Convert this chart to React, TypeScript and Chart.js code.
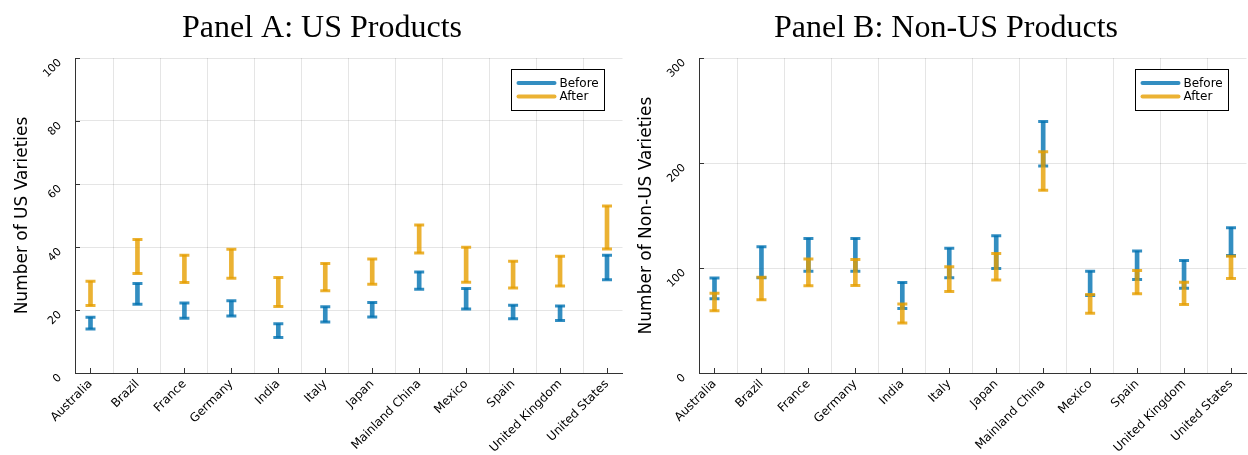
import React, { useEffect, useRef } from 'react';
import { Chart, registerables } from 'chart.js';

Chart.register(...registerables);

const categories = [
  'Australia', 'Brazil', 'France', 'Germany', 'India', 'Italy', 'Japan',
  'Mainland China', 'Mexico', 'Spain', 'United Kingdom', 'United States',
];

const seriesNames = ['Before', 'After'];

// Panel A: US varieties (low / high of each interval)
const usBeforeLow = [14.0, 21.8, 17.4, 18.1, 11.3, 16.2, 17.8, 26.6, 20.3, 17.2, 16.7, 29.6];
const usBeforeHigh = [17.7, 28.4, 22.2, 22.9, 15.6, 21.0, 22.4, 32.1, 26.8, 21.5, 21.3, 37.4];
const usAfterLow = [21.4, 31.6, 28.7, 30.1, 21.1, 26.1, 28.2, 38.1, 28.8, 27.0, 27.6, 39.4];
const usAfterHigh = [29.1, 42.4, 37.4, 39.3, 30.3, 34.8, 36.2, 47.0, 39.9, 35.5, 37.1, 53.0];

// Panel B: Non-US varieties
const nonUsBeforeLow = [70.6, 90.7, 97.0, 97.0, 61.4, 90.7, 99.6, 197.2, 73.8, 89.1, 80.8, 112.0];
const nonUsBeforeHigh = [90.4, 120.3, 128.2, 128.2, 86.3, 118.7, 130.7, 239.5, 97.0, 116.1, 107.2, 138.4];
const nonUsAfterLow = [59.2, 69.7, 83.0, 83.4, 47.7, 77.7, 88.5, 174.0, 57.0, 75.4, 65.3, 90.1];
const nonUsAfterHigh = [76.0, 91.3, 108.5, 108.2, 65.8, 101.2, 113.9, 210.6, 74.8, 97.7, 86.5, 111.3];

const panelTitles = ['Panel A: US Products', 'Panel B: Non-US Products'];
const yTitles = ['Number of US Varieties', 'Number of Non-US Varieties'];
const yMax = [100, 300];
const yStep = [20, 100];

const BLUE = 'rgba(0,114,178,0.8)';
const ORANGE = 'rgba(230,159,0,0.8)';
const GRID = 'rgba(0,0,0,0.1)';
const AXIS = '#333333';
const SANS = 'DejaVu Sans';

const W = 624;
const H = 455;

function buildDatasets(bLow: number[], bHigh: number[], aLow: number[], aHigh: number[]) {
  const bars = (lo: number[], hi: number[]) => lo.map((v, i) => ({ x: i, y: [v, hi[i]] }));
  const caps = (lo: number[], hi: number[]) => {
    const pts: { x: number; y: number }[] = [];
    lo.forEach((v, i) => {
      pts.push({ x: i, y: v });
      pts.push({ x: i, y: hi[i] });
    });
    return pts;
  };
  const capStyle = (color: string) => ({
    type: 'line' as const,
    showLine: false,
    pointStyle: 'line',
    pointRadius: 5,
    pointHoverRadius: 5,
    pointBorderWidth: 3,
    borderColor: color,
    backgroundColor: color,
    pointBorderColor: color,
  });
  return [
    { type: 'bar' as const, label: seriesNames[0], data: bars(bLow, bHigh), backgroundColor: BLUE, barThickness: 4, grouped: false, order: 3 },
    { ...capStyle(BLUE), label: seriesNames[0] + ' caps', data: caps(bLow, bHigh), order: 2 },
    { type: 'bar' as const, label: seriesNames[1], data: bars(aLow, aHigh), backgroundColor: ORANGE, barThickness: 4, grouped: false, order: 1 },
    { ...capStyle(ORANGE), label: seriesNames[1] + ' caps', data: caps(aLow, aHigh), order: 0 },
  ];
}

const decorPlugin = (title: string) => ({
  id: 'decor',
  afterDraw(chart: any) {
    const { ctx, chartArea } = chart;
    const { left, right, top, bottom } = chartArea;
    ctx.save();
    // inner tick marks
    ctx.strokeStyle = AXIS;
    ctx.lineWidth = 1;
    const xs = chart.scales.x;
    const ys = chart.scales.y;
    xs.ticks.forEach((t: any) => {
      const px = Math.round(xs.getPixelForValue(t.value)) + 0.5;
      ctx.beginPath();
      ctx.moveTo(px, bottom);
      ctx.lineTo(px, bottom - 5);
      ctx.stroke();
    });
    ys.ticks.forEach((t: any) => {
      const py = Math.round(ys.getPixelForValue(t.value)) + 0.5;
      ctx.beginPath();
      ctx.moveTo(left, py);
      ctx.lineTo(left + 5, py);
      ctx.stroke();
    });
    // legend box
    const bw = 93;
    const bh = 41;
    const bx = Math.round(right - 18.5 - bw) + 0.5;
    const by = Math.round(top + 10.5) + 0.5;
    ctx.fillStyle = '#ffffff';
    ctx.fillRect(bx, by, bw, bh);
    ctx.strokeStyle = '#000000';
    ctx.lineWidth = 1;
    ctx.strokeRect(bx, by, bw, bh);
    const colors = [BLUE, ORANGE];
    seriesNames.forEach((name, i) => {
      const ry = by + 13.5 + i * 13.5;
      ctx.strokeStyle = colors[i];
      ctx.lineWidth = 4;
      ctx.lineCap = 'round';
      ctx.beginPath();
      ctx.moveTo(bx + 7, ry);
      ctx.lineTo(bx + 43, ry);
      ctx.stroke();
      ctx.fillStyle = '#000000';
      ctx.font = `12px "${SANS}"`;
      ctx.textAlign = 'left';
      ctx.textBaseline = 'middle';
      ctx.fillText(name, bx + 48, ry + 0.5);
    });
    // panel title
    ctx.fillStyle = '#000000';
    ctx.font = '32px "Liberation Serif"';
    ctx.textAlign = 'center';
    ctx.textBaseline = 'alphabetic';
    ctx.fillText(title, 322, 37);
    ctx.restore();
  },
});

function Panel({ idx }: { idx: number }) {
  const ref = useRef<HTMLCanvasElement | null>(null);
  useEffect(() => {
    if (!ref.current) return;
    const datasets = idx === 0
      ? buildDatasets(usBeforeLow, usBeforeHigh, usAfterLow, usAfterHigh)
      : buildDatasets(nonUsBeforeLow, nonUsBeforeHigh, nonUsAfterLow, nonUsAfterHigh);
    const chart = new Chart(ref.current, {
      type: 'bar',
      data: { datasets: datasets as any },
      options: {
        animation: false,
        responsive: false,
        devicePixelRatio: 1,
        layout: { autoPadding: false, padding: { top: 58, right: 1.5, left: 0, bottom: 0 } },
        plugins: {
          legend: { display: false },
          tooltip: { enabled: false },
          title: { display: false },
        },
        scales: {
          x: {
            type: 'linear',
            min: -0.33,
            max: 11.33,
            offset: false,
            afterBuildTicks: (axis: any) => {
              axis.ticks = categories.map((_, i) => ({ value: i }));
            },
            ticks: {
              autoSkip: false,
              minRotation: 45,
              maxRotation: 45,
              padding: 4,
              color: '#000000',
              font: { family: SANS, size: 12 },
              callback: (v: any) => categories[Math.round(Number(v))],
            },
            grid: { color: GRID, drawTicks: false },
            border: { color: AXIS, width: 1 },
            afterFit: (s: any) => {
              s.height = 82;
              s.paddingLeft = 0;
              s.paddingRight = 0;
            },
          } as any,
          y: {
            type: 'linear',
            min: 0,
            max: yMax[idx],
            ticks: {
              stepSize: yStep[idx],
              minRotation: 45,
              maxRotation: 45,
              padding: 15,
              labelOffset: 3,
              color: '#000000',
              font: { family: SANS, size: 11 },
            },
            grid: { color: GRID, drawTicks: false },
            border: { color: AXIS, width: 1 },
            title: {
              display: true,
              text: yTitles[idx],
              color: '#000000',
              font: { family: SANS, size: 17 },
              padding: { top: 12, bottom: 0 },
            },
            afterFit: (s: any) => {
              s.width = 75;
              s.paddingTop = 0;
              s.paddingBottom = 0;
            },
          } as any,
        },
      },
      plugins: [decorPlugin(panelTitles[idx])],
    });
    return () => chart.destroy();
  }, [idx]);
  return (
    <canvas
      ref={ref}
      width={W}
      height={H}
      style={{ position: 'absolute', left: idx * W, top: 0, width: W, height: H }}
    />
  );
}

export default function App() {
  return (
    <div style={{ position: 'absolute', left: 0, top: 0, width: 1248, height: 455, background: '#ffffff', overflow: 'hidden' }}>
      <Panel idx={0} />
      <Panel idx={1} />
    </div>
  );
}
